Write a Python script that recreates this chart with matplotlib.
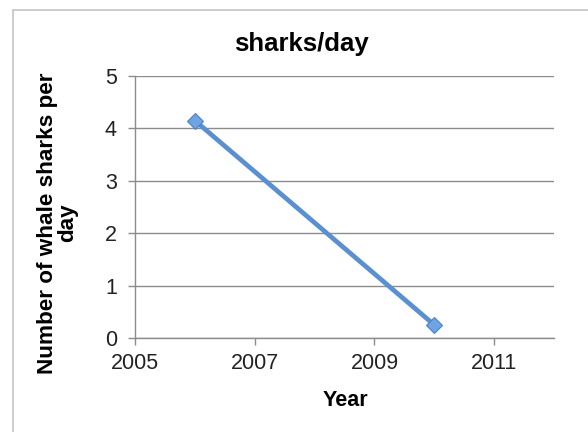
import matplotlib
matplotlib.use("Agg")
import matplotlib.pyplot as plt
from matplotlib.patches import Rectangle

# data
years = [2006, 2010]
sharks_per_day = [4.15, 0.25]

x_ticks = [2005, 2007, 2009, 2011]
y_ticks = [0, 1, 2, 3, 4, 5]

plt.rcParams["font.family"] = ["Liberation Sans", "DejaVu Sans"]

fig = plt.figure(figsize=(5.88, 4.32), dpi=100)

# light outer chart border
fig.patches.append(Rectangle((0.022, -0.05), 1.0, 1.027, transform=fig.transFigure,
                             fill=False, edgecolor="#c4c4c4", linewidth=1.2))

ax = fig.add_axes([0.2296, 0.2176, 0.7126, 0.6064])

ax.plot(years, sharks_per_day, color="#5a8fd0", linewidth=3.4,
        marker="D", markersize=8, markerfacecolor="#6fa3e3",
        markeredgecolor="#4f82c3", markeredgewidth=0.8, zorder=3)

ax.set_xlim(2005, 2012)
ax.set_ylim(0, 5)
ax.set_xticks(x_ticks)
ax.set_yticks(y_ticks)

ax.grid(axis="y", color="#8c8c8c", linewidth=1.0)
ax.set_axisbelow(True)

for side in ["top", "right"]:
    ax.spines[side].set_visible(False)
for side in ["left", "bottom"]:
    ax.spines[side].set_color("#8c8c8c")
    ax.spines[side].set_linewidth(1.0)

ax.tick_params(axis="both", colors="#8c8c8c", length=5, width=1.0,
               labelsize=15.5, labelcolor="#222222")
ax.tick_params(axis="y", pad=8)
ax.tick_params(axis="x", pad=6)

fig.text(0.512, 0.898, "sharks/day", ha="center", va="center",
         fontsize=18.5, fontweight="bold")
fig.text(0.587, 0.074, "Year", ha="center", va="center",
         fontsize=15.5, fontweight="bold")
fig.text(0.098, 0.484, "Number of whale sharks per\nday", ha="center", va="center",
         rotation=90, fontsize=16.2, fontweight="bold", linespacing=1.0)

fig.savefig("out.png", dpi=100)
